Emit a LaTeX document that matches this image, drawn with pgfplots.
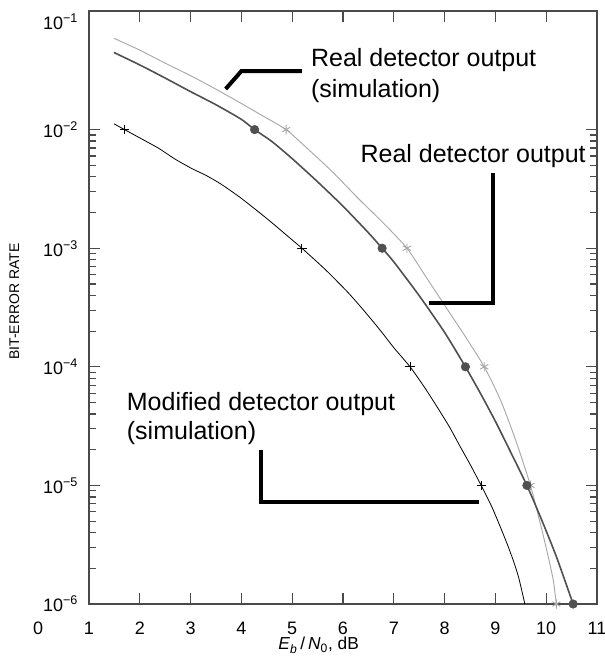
\documentclass[border=0pt]{standalone}
\usepackage{fontspec}
\setmainfont{Liberation Sans}
\usepackage{pgfplots}
\pgfplotsset{compat=1.18}

\definecolor{axisgray}{HTML}{4A4A4A}
\definecolor{realgray}{HTML}{505050}
\definecolor{simgray}{HTML}{A8A8A8}

\begin{document}
\begin{tikzpicture}
\begin{axis}[
    name=ber,
    scale only axis,
    width=381pt, height=444.75pt,
    ymode=log,
    xmin=1, xmax=11, ymin=1e-6, ymax=1e-1,
    clip=false,
    axis line style={axisgray, line width=1.1pt},
    every tick/.style={axisgray, line width=0.9pt},
    tick align=inside,
    major tick length=8pt, minor tick length=5pt,
    xtick={1,2,...,11},
    ytick={1e-6,1e-5,1e-4,1e-3,1e-2},
    yticklabels={10\textsuperscript{−6},10\textsuperscript{−5},10\textsuperscript{−4},10\textsuperscript{−3},10\textsuperscript{−2}},
    extra y ticks={1e-1},
    extra y tick labels={10\textsuperscript{−1}},
    extra y tick style={yticklabel style={yshift=-8pt}},
    /pgf/number format/assume math mode=true,
    ticklabel style={font=\fontsize{13.5}{15}\selectfont},
    xticklabel style={anchor=center, yshift=-18pt},
    yticklabel style={anchor=east, inner sep=0pt, xshift=-8pt},
    xlabel={\textit{E}\textsubscript{\textit{b}}\,/\,\textit{N}\textsubscript{0}, dB},
    xlabel style={font=\fontsize{13}{15}\selectfont, at={(rel axis cs:0.452,0)}, anchor=center, yshift=-31pt},
    ylabel={BIT-ERROR RATE},
    ylabel style={font=\fontsize{10.5}{12}\selectfont, at={(rel axis cs:0,0.51)}, anchor=center, yshift=56pt},
]
% Modified detector output (simulation)
\addplot[black, line width=0.6pt, smooth, tension=0.4] coordinates {
    (1.49,0.0112) (1.70,0.0100) (2.0,0.00851) (2.38,0.00692) (2.7,0.00562)
    (3.03,0.00468) (3.3,0.00412) (3.6,0.00347) (4.0,0.00263) (4.5,0.00178)
    (4.86,0.00132) (5.19,0.0010) (5.45,7.94e-4) (5.7,6.31e-4) (6.09,4.27e-4)
    (6.4,3.02e-4) (6.73,2.04e-4) (7.0,1.45e-4) (7.32,1.0e-4) (7.6,6.76e-5)
    (7.84,4.68e-5) (8.1,3.09e-5) (8.29,2.19e-5) (8.5,1.51e-5) (8.72,1.0e-5)
    (8.95,6.31e-6) (9.21,3.39e-6) (9.35,2.34e-6) (9.46,1.66e-6) (9.58,1.0e-6)
};
\addplot[only marks, black, mark=+, mark size=3.5pt, line width=0.7pt] coordinates {
    (1.70,1e-2) (5.19,1e-3) (7.32,1e-4) (8.72,1e-5)
};
% Real detector output (simulation)
\addplot[simgray, line width=0.7pt, smooth, tension=0.4] coordinates {
    (1.49,0.0589) (2.0,0.0468) (2.5,0.0363) (3.0,0.0285) (3.5,0.0219)
    (4.0,0.0166) (4.4,0.0132) (4.88,0.0100) (5.3,0.00692) (5.8,0.00437)
    (6.3,0.00263) (6.8,0.00162) (7.26,0.0010) (7.6,6.03e-4) (8.0,3.31e-4)
    (8.4,1.82e-4) (8.78,1.0e-4) (9.1,5.25e-5) (9.4,2.40e-5) (9.69,1.0e-5)
    (9.9,4.47e-6) (10.05,2.40e-6) (10.14,1.58e-6) (10.20,1.0e-6)
};
\addplot[only marks, simgray, mark=asterisk, mark size=3.5pt, line width=0.7pt] coordinates {
    (4.88,1e-2) (7.26,1e-3) (8.78,1e-4) (9.69,1e-5) (10.20,1e-6)
};
% Real detector output
\addplot[realgray, line width=1.2pt, smooth, tension=0.4] coordinates {
    (1.49,0.0447) (2.0,0.0351) (2.5,0.0272) (3.0,0.0209) (3.5,0.0162)
    (4.0,0.0122) (4.26,0.0100) (4.6,0.00794) (5.0,0.00569) (5.5,0.00363)
    (6.0,0.00226) (6.5,0.00135) (6.77,0.0010) (7.0,7.67e-4) (7.5,3.98e-4)
    (8.0,1.95e-4) (8.41,1.0e-4) (8.7,6.03e-5) (9.0,3.47e-5) (9.3,1.91e-5)
    (9.62,1.0e-5) (9.9,5.25e-6) (10.2,2.51e-6) (10.53,1.0e-6)
};
\addplot[only marks, realgray, mark=*, mark size=3.2pt] coordinates {
    (4.26,1e-2) (6.77,1e-3) (8.41,1e-4) (9.62,1e-5) (10.53,1e-6)
};

% tick label 0 left of the box
\node[font=\fontsize{13.5}{15}\selectfont, anchor=center, yshift=-18pt] at (axis cs:0,1e-6) {0};

% annotations
\begin{scope}[every node/.style={font=\fontsize{18.75}{22}\selectfont, inner sep=0pt, anchor=base west}]
\node at (rel axis cs:0.4366,0.9056) {Real detector output};
\node at (rel axis cs:0.4366,0.8533) {(simulation)};
\node at (rel axis cs:0.5341,0.7437) {Real detector output};
\node at (rel axis cs:0.0741,0.3255) {Modified detector output};
\node at (rel axis cs:0.0741,0.2766) {(simulation)};
\end{scope}
\draw[black, line width=3pt] (rel axis cs:0.2690,0.8685) -- (rel axis cs:0.3002,0.8988) -- (rel axis cs:0.4191,0.8988);
\draw[black, line width=3pt] (rel axis cs:0.7953,0.7268) -- (rel axis cs:0.7953,0.5076) -- (rel axis cs:0.6686,0.5076);
\draw[black, line width=3pt] (rel axis cs:0.3392,0.2597) -- (rel axis cs:0.3392,0.1720) -- (rel axis cs:0.7680,0.1720);
\end{axis}
\pgfresetboundingbox
\path ([xshift=-66.75pt, yshift=-45pt]ber.south west) rectangle ([xshift=6pt, yshift=8.25pt]ber.north east);
\end{tikzpicture}
\end{document}
